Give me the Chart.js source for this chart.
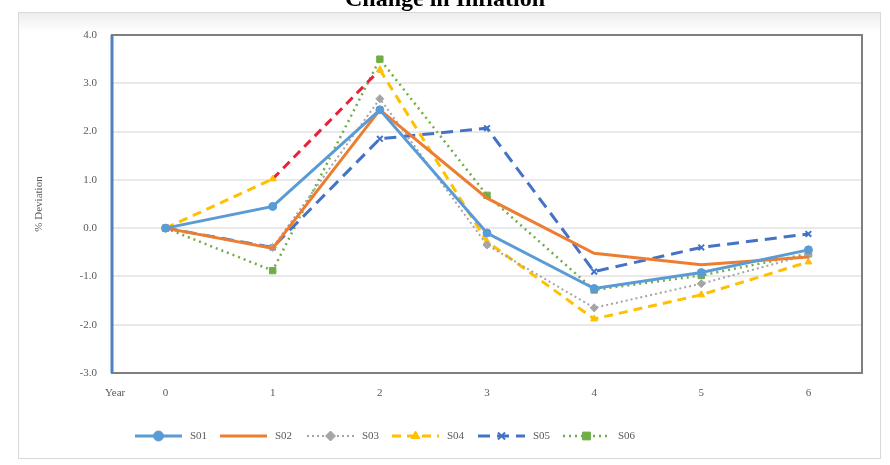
<!DOCTYPE html>
<html>
<head>
<meta charset="utf-8">
<script src="https://cdn.jsdelivr.net/npm/chart.js@4/dist/chart.umd.min.js"></script>
<style>
html,body{margin:0;padding:0;background:#fff;}
#wrap{position:relative;width:890px;height:465px;}
</style>
</head>
<body>
<div id="wrap"><canvas id="c" width="890" height="465"></canvas></div>
<script>
const titleText = "Change in Inflation";
const yTitle = "% Deviation";
const xTitle = "Year";
const categories = ["0","1","2","3","4","5","6"];
const seriesNames = ["S01","S02","S03","S04","S05","S06"];
const s01 = [0.0, 0.45, 2.45, -0.1, -1.25, -0.92, -0.45];
const s02 = [0.0, -0.42, 2.45, 0.62, -0.52, -0.76, -0.6];
const s03 = [0.0, -0.4, 2.68, -0.35, -1.65, -1.15, -0.55];
const s04 = [0.0, 1.02, 3.28, -0.28, -1.88, -1.38, -0.7];
const s05 = [0.0, -0.4, 1.85, 2.07, -0.9, -0.4, -0.12];
const s06 = [0.0, -0.88, 3.5, 0.68, -1.28, -0.98, -0.53];
const yTicks = [4, 3, 2, 1, 0, -1, -2, -3];

const serif = "'Liberation Serif', 'DejaVu Serif', serif";

const styles = [
  {c:'#5B9BD5', dash:[], w:3, ps:'circle', r:4},
  {c:'#ED7D31', dash:[], w:3, ps:'circle', r:0},
  {c:'#A5A5A5', dash:[2,3], w:2, ps:'rectRot', r:4},
  {c:'#FFC000', dash:[9,6], w:3, ps:'triangle', r:4},
  {c:'#4472C4', dash:[12,7], w:3, ps:'crossRot', r:4},
  {c:'#70AD47', dash:[2,4], w:2.5, ps:'rect', r:4.5}
];
const values = [s01, s02, s03, s04, s05, s06];

const datasets = values.map((d, i) => {
  const s = styles[i];
  const ds = {
    label: seriesNames[i],
    data: d,
    borderColor: s.c,
    backgroundColor: s.c,
    borderWidth: s.w,
    borderDash: s.dash,
    pointStyle: s.ps,
    pointRadius: s.r,
    pointBorderColor: s.c,
    pointBackgroundColor: s.c,
    pointBorderWidth: s.ps === 'crossRot' ? 2 : 1,
    tension: 0,
    fill: false
  };
  if (i === 3) {
    ds.segment = { borderColor: ctx => ctx.p0DataIndex === 1 ? '#E8203A' : undefined };
  }
  return ds;
});

const decor = {
  id: 'decor',
  beforeDraw(chart) {
    const ctx = chart.ctx;
    ctx.save();
    ctx.fillStyle = '#fff';
    ctx.fillRect(0, 0, chart.width, chart.height);
    const g = ctx.createLinearGradient(0, 12, 0, 32);
    g.addColorStop(0, '#ececec');
    g.addColorStop(1, '#ffffff');
    ctx.fillStyle = g;
    ctx.fillRect(19, 13, 861, 20);
    ctx.strokeStyle = '#d9d9d9';
    ctx.lineWidth = 1;
    ctx.strokeRect(18.5, 12.5, 862, 446);
    ctx.restore();
  },
  afterDatasetsDraw(chart) {
    const ctx = chart.ctx;
    const a = chart.chartArea;
    ctx.save();
    ctx.strokeStyle = '#7f7f7f';
    ctx.lineWidth = 2;
    ctx.strokeRect(a.left, a.top, a.right - a.left, a.bottom - a.top);
    ctx.strokeStyle = '#4F81BD';
    ctx.lineWidth = 3;
    ctx.beginPath();
    ctx.moveTo(a.left, a.top);
    ctx.lineTo(a.left, a.bottom);
    ctx.stroke();
    ctx.fillStyle = '#000';
    ctx.font = "bold 24px " + serif;
    ctx.textAlign = 'center';
    ctx.textBaseline = 'alphabetic';
    ctx.fillText(titleText, 445, 6);
    ctx.fillStyle = '#595959';
    ctx.font = "11px " + serif;
    ctx.textAlign = 'left';
    ctx.textBaseline = 'middle';
    ctx.fillText(xTitle, 105, 393);
    const items = [135, 220, 307, 392, 478, 563];
    const ly = 436;
    chart.data.datasets.forEach((ds, i) => {
      const x0 = items[i];
      const len = 47;
      ctx.save();
      ctx.strokeStyle = ds.borderColor;
      ctx.lineWidth = ds.borderWidth;
      ctx.setLineDash(ds.borderDash);
      ctx.beginPath();
      ctx.moveTo(x0, ly);
      ctx.lineTo(x0 + len, ly);
      ctx.stroke();
      ctx.setLineDash([]);
      if (ds.pointRadius > 0) {
        ctx.fillStyle = ds.pointBackgroundColor;
        ctx.strokeStyle = ds.pointBorderColor;
        ctx.lineWidth = ds.pointBorderWidth;
        Chart.helpers.drawPoint(ctx, {
          pointStyle: ds.pointStyle,
          radius: ds.pointRadius + 1,
          borderWidth: ds.pointBorderWidth,
          rotation: 0
        }, x0 + len / 2, ly);
      }
      ctx.restore();
      ctx.fillStyle = '#595959';
      ctx.font = "11px " + serif;
      ctx.textAlign = 'left';
      ctx.textBaseline = 'middle';
      ctx.fillText(ds.label, x0 + len + 8, ly);
    });
    ctx.restore();
  }
};

new Chart(document.getElementById('c'), {
  type: 'line',
  data: { labels: categories, datasets },
  options: {
    responsive: false,
    animation: false,
    devicePixelRatio: 1,
    layout: { padding: { left: 0, top: 35, right: 28, bottom: 62 } },
    plugins: {
      legend: { display: false },
      title: { display: false },
      tooltip: { enabled: false }
    },
    scales: {
      x: {
        offset: true,
        afterFit(scale) { scale.height = 30; },
        grid: { display: false, drawTicks: false },
        border: { display: false },
        ticks: { color: '#595959', font: { family: serif, size: 11 }, padding: 14 }
      },
      y: {
        min: -3, max: 4,
        afterFit(scale) { scale.width = 112; },
        afterBuildTicks(scale) { scale.ticks = yTicks.map(v => ({ value: v })); },
        grid: { color: '#e9e9e9', lineWidth: 2, drawTicks: false },
        border: { display: false },
        title: { display: true, text: yTitle, color: '#595959', font: { family: serif, size: 11 }, padding: { top: 33, bottom: 0 } },
        ticks: {
          color: '#595959', font: { family: serif, size: 11 }, padding: 15,
          callback: v => Number(v).toFixed(1)
        }
      }
    }
  },
  plugins: [decor]
});
</script>
</body>
</html>
